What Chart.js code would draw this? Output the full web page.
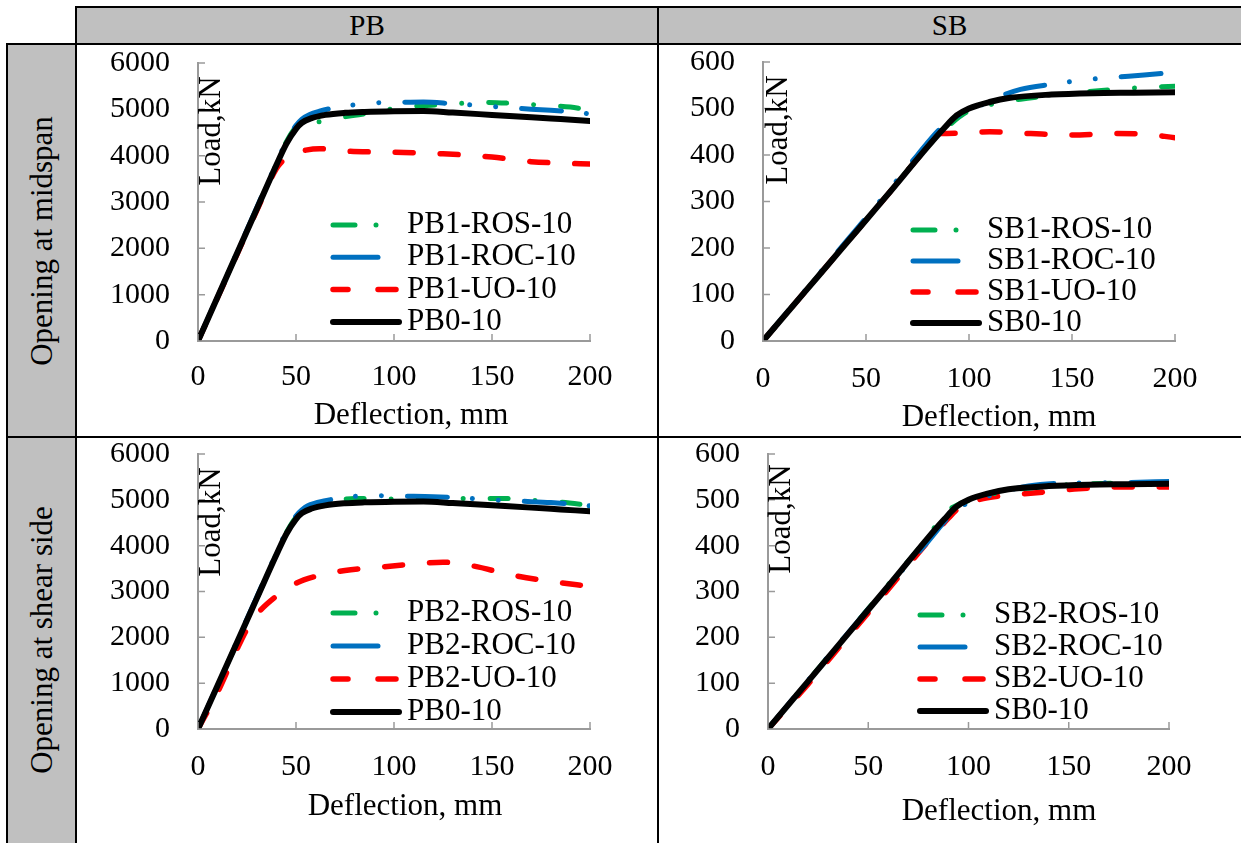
<!DOCTYPE html>
<html>
<head>
<meta charset="utf-8">
<script src="https://cdn.jsdelivr.net/npm/chart.js@4.4.0/dist/chart.umd.min.js"></script>
<style>
  body { margin: 0; background: #fff; width: 1241px; height: 843px; overflow: hidden; position: relative;
         font-family: "Liberation Serif", "Times New Roman", serif; }
  .gray { position: absolute; background: #c0c0c0; }
  .hl { position: absolute; height: 2px; background: #000; }
  .vl { position: absolute; width: 2px; background: #000; }
  .head { position: absolute; top: 7px; height: 37px; line-height: 37px; text-align: center; font-size: 29px; }
  .side { position: absolute; left: 7px; width: 69px; }
  .side span { position: absolute; left: 50%; top: 50%; transform: translate(-50%, -50%) rotate(-90deg);
               white-space: nowrap; font-size: 31px; }
  canvas { position: absolute; }
</style>
</head>
<body>
<div class="gray" style="left:76px;top:7px;width:1165px;height:37px"></div>
<div class="gray" style="left:7px;top:44px;width:69px;height:799px"></div>
<div class="head" style="left:76px;width:582px">PB</div>
<div class="head" style="left:658px;width:583px">SB</div>
<div class="side" style="top:44px;height:393px"><span>Opening at midspan</span></div>
<div class="side" style="top:437px;height:406px"><span>Opening at shear side</span></div>
<div class="hl" style="left:75px;top:6px;width:1166px"></div>
<div class="hl" style="left:6px;top:43px;width:1235px"></div>
<div class="hl" style="left:6px;top:436px;width:1235px"></div>
<div class="vl" style="left:6px;top:43px;height:800px"></div>
<div class="vl" style="left:75px;top:6px;height:837px"></div>
<div class="vl" style="left:657px;top:6px;height:837px"></div>

<canvas id="c1" width="578" height="389" style="left:78px;top:46px"></canvas>
<canvas id="c2" width="579" height="389" style="left:660px;top:46px"></canvas>
<canvas id="c3" width="578" height="404" style="left:78px;top:439px"></canvas>
<canvas id="c4" width="579" height="404" style="left:660px;top:439px"></canvas>

<script>
// x ticks shared by all four panels, y ticks per beam type
const xTicks = [0, 50, 100, 150, 200];
const pbYTicks = [0, 1000, 2000, 3000, 4000, 5000, 6000];
const sbYTicks = [0, 100, 200, 300, 400, 500, 600];

const pb1Names = ["PB1-ROS-10", "PB1-ROC-10", "PB1-UO-10", "PB0-10"];
const sb1Names = ["SB1-ROS-10", "SB1-ROC-10", "SB1-UO-10", "SB0-10"];
const pb2Names = ["PB2-ROS-10", "PB2-ROC-10", "PB2-UO-10", "PB0-10"];
const sb2Names = ["SB2-ROS-10", "SB2-ROC-10", "SB2-UO-10", "SB0-10"];

// [deflection mm, load kN]
const pb0 = [[0,0],[10,950],[20,1900],[30,2850],[40,3800],[45,4250],[50,4580],[53,4710],[58,4810],[65,4880],
  [75,4925],[85,4945],[100,4960],[115,4965],[130,4930],[150,4880],[170,4830],[185,4790],[200,4750]];
const pb1Ros = [[0,0],[10,950],[20,1900],[30,2850],[40,3820],[45,4290],[50,4620],[55,4760],[61,4730],[70,4810],
  [80,4870],[95,4980],[108,5060],[125,5100],[145,5150],[160,5130],[175,5090],[190,5050],[200,4980]];
const pb1Roc = [[0,0],[10,960],[20,1920],[30,2880],[40,3840],[45,4300],[50,4650],[53,4790],[57,4890],[62,4960],
  [70,5040],[80,5100],[90,5140],[100,5150],[115,5160],[130,5120],[145,5080],[160,5030],[175,4990],[190,4950],[200,4900]];
const pb1Uo = [[0,0],[10,940],[20,1880],[30,2820],[40,3720],[44,3920],[48,4040],[55,4120],[62,4150],[75,4100],
  [90,4080],[105,4070],[125,4040],[150,3970],[170,3870],[185,3840],[200,3820]];

const sb0 = [[0,0],[20,104],[40,208],[60,312],[80,418],[88,458],[94,485],[100,500],[110,514],[120,523],
  [140,530],[160,533],[180,534],[200,535]];
const sb1Ros = [[0,0],[20,104],[40,208],[60,312],[80,418],[90,462],[98,490],[110,508],[125,520],[140,528],
  [160,537],[180,544],[200,548]];
const sb1Roc = [[0,0],[20,106],[40,212],[60,318],[75,400],[85,452],[92,478],[100,494],[108,512],[115,526],
  [125,541],[140,552],[155,561],[170,567],[185,572],[200,578]];
const sb1Uo = [[0,0],[20,104],[40,208],[60,312],[80,418],[86,446],[95,447],[110,450],[130,446],[150,443],
  [170,446],[185,445],[200,437]];

const pb2Ros = [[0,0],[10,950],[20,1900],[30,2850],[40,3820],[45,4280],[50,4620],[53,4740],[60,4880],[70,4980],
  [80,5030],[95,5020],[110,5010],[125,5030],[140,5030],[155,5030],[170,4990],[185,4950],[200,4880]];
const pb2Roc = [[0,0],[10,960],[20,1920],[30,2880],[40,3840],[45,4300],[50,4650],[53,4780],[56,4870],[65,4980],
  [76,5060],[90,5090],[105,5080],[120,5070],[135,5040],[150,5000],[165,4970],[180,4940],[200,4870]];
const pb2Uo = [[0,0],[10,800],[20,1750],[25,2180],[30,2500],[40,2900],[50,3180],[60,3330],[75,3460],[90,3520],
  [110,3600],[125,3640],[140,3560],[160,3360],[180,3220],[200,3110]];

const sb2Ros = [[0,0],[20,105],[40,210],[60,315],[80,420],[88,470],[95,490],[105,505],[120,520],[140,530],
  [160,535],[180,537],[200,538]];
const sb2Roc = [[0,0],[20,106],[40,210],[60,312],[80,410],[90,462],[96,485],[102,496],[115,515],[130,530],
  [145,536],[160,537],[180,538],[200,540]];
const sb2Uo = [[0,0],[20,98],[40,202],[60,305],[80,410],[90,460],[96,485],[105,500],[115,508],[125,512],
  [140,518],[155,524],[175,528],[200,528]];

const FONT = "'Liberation Serif', 'Times New Roman', serif";
const AXIS = "#9a9a9a";
Chart.defaults.font.family = FONT;
Chart.defaults.font.size = 30;
Chart.defaults.color = "#000";

// line looks: ROS, ROC, UO, reference
const looks = [
  { color: "#00b050", width: 5, dash: [18, 27, 0.01, 27], key: [22, 21, 0.01, 200], len: 49 },
  { color: "#0070c0", width: 5, dash: [40, 25, 0.01, 26, 0.01, 26], key: [], len: 45 },
  { color: "#ff0000", width: 5.5, dash: [18, 27], key: [15, 30, 18, 200], len: 63 },
  { color: "#000000", width: 6, dash: [], key: [], len: 66 },
];

const extras = {
  id: "extras",
  afterDraw(chart, args, o) {
    const { ctx, chartArea: a, scales: { x, y } } = chart;
    ctx.save();
    // inward tick marks
    ctx.strokeStyle = AXIS;
    ctx.lineWidth = 1.5;
    ctx.beginPath();
    x.ticks.forEach(t => {
      const px = x.getPixelForValue(t.value);
      ctx.moveTo(px, a.bottom); ctx.lineTo(px, a.bottom - 7);
    });
    y.ticks.forEach(t => {
      const py = y.getPixelForValue(t.value);
      ctx.moveTo(a.left, py); ctx.lineTo(a.left + 7, py);
    });
    ctx.stroke();

    ctx.fillStyle = "#000";
    ctx.textBaseline = "middle";
    // axis titles
    ctx.font = "31px " + FONT;
    ctx.textAlign = "center";
    ctx.fillText("Deflection, mm", a.left + o.xTitle[0], a.bottom + o.xTitle[1]);
    ctx.save();
    ctx.translate(a.left + o.yTitle[0], a.top + o.yTitle[1]);
    ctx.rotate(-Math.PI / 2);
    ctx.fillText("Load,kN", 0, 0);
    ctx.restore();

    // legend
    const [lx, ly, step] = o.legend;
    ctx.textAlign = "left";
    o.names.forEach((name, i) => {
      const s = looks[i];
      const x0 = a.left + lx, y0 = a.top + ly + i * step;
      ctx.strokeStyle = s.color;
      ctx.lineWidth = s.width;
      ctx.lineCap = "round";
      ctx.setLineDash(s.key);
      ctx.beginPath();
      ctx.moveTo(x0 + 3, y0); ctx.lineTo(x0 + 3 + s.len, y0);
      ctx.stroke();
      ctx.setLineDash([]);
      ctx.fillText(name, x0 + 77, y0);
    });
    ctx.restore();
  }
};

function panel(id, names, series, yTicks, area, xPad, yTitle, xTitle, legend) {
  const cv = document.getElementById(id);
  const W = cv.width, H = cv.height;
  const order = [3, 1, 0, 2]; // reference drawn on top, UO at the bottom
  const datasets = order.map(i => ({
    label: names[i],
    data: series[i].map(p => ({ x: p[0], y: p[1] })),
    borderColor: looks[i].color,
    borderWidth: looks[i].width,
    borderDash: looks[i].dash,
    borderCapStyle: "round",
    borderJoinStyle: "round",
    cubicInterpolationMode: "monotone",
    pointRadius: 0,
    fill: false,
  }));
  return new Chart(cv, {
    type: "line",
    data: { datasets },
    options: {
      responsive: false,
      animation: false,
      layout: { padding: { left: 0, top: area[1], right: W - area[2], bottom: 0 } },
      scales: {
        x: {
          type: "linear",
          min: xTicks[0], max: xTicks[xTicks.length - 1],
          afterBuildTicks: s => { s.ticks = xTicks.map(v => ({ value: v })); },
          afterFit: s => { s.height = H - area[3]; s.paddingLeft = 0; s.paddingRight = 0; },
          grid: { display: true, drawOnChartArea: false, drawTicks: false },
          border: { display: true, color: AXIS, width: 2 },
          ticks: { padding: xPad, autoSkip: false, maxRotation: 0, callback: v => String(v) },
        },
        y: {
          min: yTicks[0], max: yTicks[yTicks.length - 1],
          afterBuildTicks: s => { s.ticks = yTicks.map(v => ({ value: v })); },
          afterFit: s => { s.width = area[0]; s.paddingTop = 0; s.paddingBottom = 0; },
          grid: { display: true, drawOnChartArea: false, drawTicks: false },
          border: { display: true, color: AXIS, width: 2 },
          ticks: { padding: 28, autoSkip: false, callback: v => String(v) },
        },
      },
      plugins: {
        legend: { display: false },
        tooltip: { enabled: false },
        extras: { names, yTitle, xTitle, legend },
      },
    },
    plugins: [extras],
  });
}

panel("c1", pb1Names, [pb1Ros, pb1Roc, pb1Uo, pb0], pbYTicks, [120, 17, 512, 295], 18, [14, 68], [213, 75], [132, 162, 32.3]);
panel("c2", sb1Names, [sb1Ros, sb1Roc, sb1Uo, sb0], sbYTicks, [103, 16, 515, 295], 20, [16, 68], [236, 77], [147, 168, 31]);
panel("c3", pb2Names, [pb2Ros, pb2Roc, pb2Uo, pb0], pbYTicks, [120, 15, 512, 290], 20, [14, 68], [207, 78], [132, 159, 33]);
panel("c4", sb2Names, [sb2Ros, sb2Roc, sb2Uo, sb0], sbYTicks, [108, 15, 509, 290], 20, [14, 65], [231, 83], [149, 161, 32]);
</script>
</body>
</html>
